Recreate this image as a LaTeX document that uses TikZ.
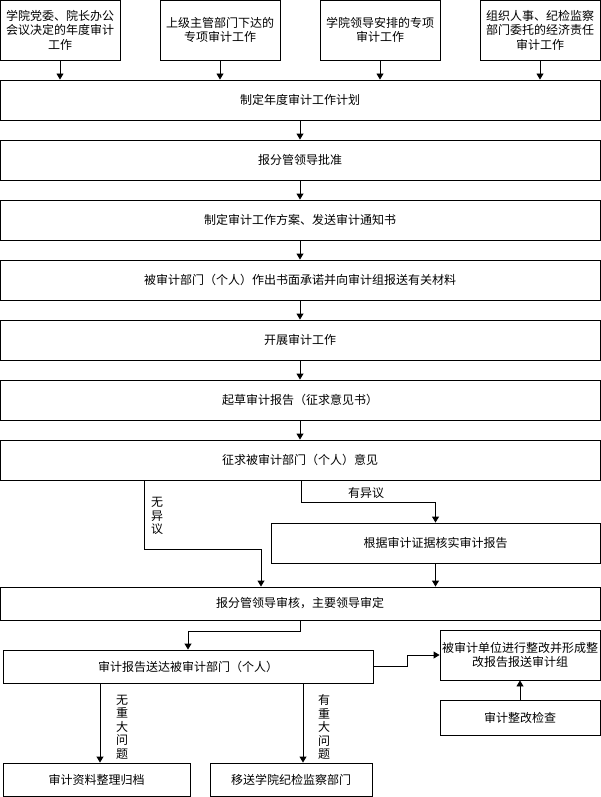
\documentclass[tikz,border=0pt]{standalone}
\usepackage{fontspec}
\newfontfamily\cjk{Noto Sans CJK SC}
\usetikzlibrary{arrows.meta}

\begin{document}
\begin{tikzpicture}[x=1pt,y=-1pt,>={Triangle[width=7pt,length=6pt]},line width=0.9pt,
  every node/.style={font=\cjk\fontsize{12}{14.5}\selectfont},
  box/.style={draw,align=center,inner sep=1pt},
  wide/.style={box,minimum width=600pt,minimum height=40pt},
  src/.style={box,minimum width=120pt,minimum height=60pt},
  tag/.style={font=\cjk\fontsize{12}{13.5}\selectfont,align=center,inner sep=0pt}]
  \useasboundingbox (0,0) rectangle (601,797);

  % sources of audit work
  \node[src] (src1) at (60,30) {学院党委、院长办公\\会议决定的年度审计\\工作};
  \node[src] (src2) at (220,30) {上级主管部门下达的\\专项审计工作};
  \node[src] (src3) at (380,30) {学院领导安排的专项\\审计工作};
  \node[src] (src4) at (540,30) {组织人事、纪检监察\\部门委托的经济责任\\审计工作};

  % main sequence
  \node[wide] (plan) at (300,100) {制定年度审计工作计划};
  \node[wide] (approve) at (300,160) {报分管领导批准};
  \node[wide] (scheme) at (300,220) {制定审计工作方案、发送审计通知书};
  \node[wide] (promise) at (300,280) {被审计部门（个人）作出书面承诺并向审计组报送有关材料};
  \node[wide] (fieldwork) at (300,340) {开展审计工作};
  \node[wide] (draft) at (300,400) {起草审计报告（征求意见书）};
  \node[wide] (opinion) at (300,460) {征求被审计部门（个人）意见};

  \draw[->] (src1.south) -- (src1.south |- plan.north);
  \draw[->] (src2.south) -- (src2.south |- plan.north);
  \draw[->] (src3.south) -- (src3.south |- plan.north);
  \draw[->] (src4.south) -- (src4.south |- plan.north);
  \draw[->] (plan.south) -- (approve.north);
  \draw[->] (approve.south) -- (scheme.north);
  \draw[->] (scheme.south) -- (promise.north);
  \draw[->] (promise.south) -- (fieldwork.north);
  \draw[->] (fieldwork.south) -- (draft.north);
  \draw[->] (draft.south) -- (opinion.north);

  % opinions
  \node[box,minimum width=329pt,minimum height=40pt] (verify) at (435.5,543) {根据审计证据核实审计报告};
  \node[box,minimum width=600pt,minimum height=33pt] (review) at (300,603.5) {报分管领导审核，主要领导审定};
  \node[tag] (noobj) at (157,516) {无\\异\\议};
  \node[tag] (yesobj) at (366,493) {有异议};

  \coordinate (nobend) at (144,549);
  \coordinate (nodrop) at (261,549);
  \coordinate (yesbend) at (301,502);
  \draw[->] (opinion.south -| nobend) -- (nobend) -- (nodrop) -- (nodrop |- review.north);
  \draw[->] (opinion.south -| yesbend) -- (yesbend) -| (verify.north);
  \draw[->] (verify.south) -- (verify.south |- review.north);

  % delivery and follow-up
  \node[box,minimum width=370pt,minimum height=33pt] (deliver) at (188,666.5) {审计报告送达被审计部门（个人）};
  \node[box,minimum width=160pt,minimum height=50pt,inner sep=0pt] (rectify) at (520,655) {被审计单位进行整改并形成整\\改报告报送审计组};
  \node[box,minimum width=160pt,minimum height=35pt] (check) at (520,717.5) {审计整改检查};
  \node[box,minimum width=187pt,minimum height=33pt] (archive) at (96.5,779.5) {审计资料整理归档};
  \node[box,minimum width=162pt,minimum height=33pt] (transfer) at (291,779.5) {移送学院纪检监察部门};
  \node[tag] (minor) at (122,727) {无\\重\\大\\问\\题};
  \node[tag] (major) at (324,727) {有\\重\\大\\问\\题};

  \coordinate (sendbend) at (300,631);
  \coordinate (fixbend) at (407,666.5);
  \coordinate (okline) at (100,0);
  \coordinate (badline) at (303,0);
  \draw[->] (review.south) -- (sendbend) -| (deliver.north);
  \draw[->] (deliver.east) -- (fixbend) |- (rectify.west);
  \draw[->] (check.north) -- (rectify.south);
  \draw[->] (deliver.south -| okline) -- (archive.north -| okline);
  \draw[->] (deliver.south -| badline) -- (transfer.north -| badline);
\end{tikzpicture}
\end{document}
